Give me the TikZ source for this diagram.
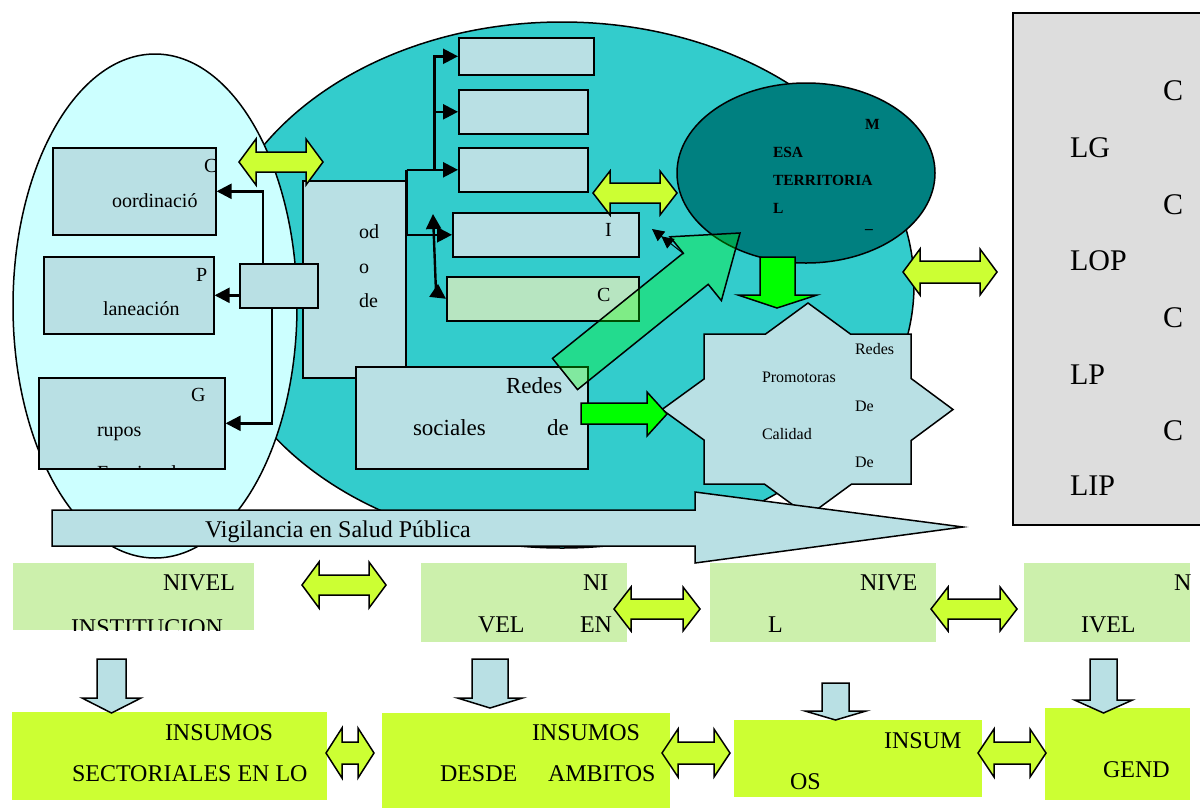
\documentclass[tikz,border=0pt]{standalone}
\usepackage{fontspec}
\setmainfont{Liberation Serif}
\usetikzlibrary{arrows.meta,shapes.geometric}
\definecolor{tealA}{RGB}{51,204,204}
\definecolor{paleCyan}{RGB}{204,255,255}
\definecolor{boxblue}{RGB}{185,224,228}
\definecolor{mintbox}{RGB}{183,229,193}
\definecolor{mesaTeal}{RGB}{0,128,128}
\definecolor{lime}{RGB}{204,255,51}
\definecolor{brightgreen}{RGB}{0,255,0}
\definecolor{greybox}{RGB}{221,221,221}
\definecolor{levelgreen}{RGB}{204,240,172}

% double-headed block arrow: centre x, centre y, half length, half height, shaft half height, head length
\newcommand{\twoway}[6]{%
  \draw[twowaystyle] (#1-#3,#2) -- (#1-#3+#6,#2-#4) -- (#1-#3+#6,#2-#5) -- (#1+#3-#6,#2-#5)
    -- (#1+#3-#6,#2-#4) -- (#1+#3,#2) -- (#1+#3-#6,#2+#4) -- (#1+#3-#6,#2+#5)
    -- (#1-#3+#6,#2+#5) -- (#1-#3+#6,#2+#4) -- cycle;}
% downward block arrow: centre x, shaft half width, top, head base, head half width, tip
\newcommand{\downblock}[6]{%
  \draw[downstyle] (#1-#2,#3) -- (#1+#2,#3) -- (#1+#2,#4) -- (#1+#5,#4) -- (#1,#6)
    -- (#1-#5,#4) -- (#1-#2,#4) -- cycle;}

\begin{document}
\begin{tikzpicture}[x=1pt,y=-1pt,
  box/.style={draw=black, line width=1.6pt, fill=boxblue, anchor=north west, inner sep=0pt},
  flatbox/.style={draw=none, anchor=north west, inner sep=0pt},
  oval/.style={draw=black, line width=1.5pt, ellipse, inner sep=0pt},
  conn/.style={line width=2.4pt, -{Triangle[length=15pt,width=15pt]}},
  twowaystyle/.style={draw=black, line width=1.5pt, fill=lime, line join=miter},
  downstyle/.style={draw=black, line width=1.5pt, fill=boxblue},
  lbl/.style={anchor=base west, inner sep=0pt, outer sep=0pt},
  f16/.style={lbl, font=\fontsize{16}{19}\selectfont},
  f20/.style={lbl, font=\fontsize{20}{24}\selectfont},
  f23/.style={lbl, font=\fontsize{23}{27}\selectfont},
  f24/.style={lbl, font=\fontsize{24}{28}\selectfont},
  f30/.style={lbl, font=\fontsize{30}{34}\selectfont},
  fbold/.style={lbl, font=\fontsize{15.5}{18}\selectfont\bfseries},
]
\useasboundingbox (0,0) rectangle (1200,807);
\fill[white] (0,0) rectangle (1200,807);

% the two large ovals
\node[oval, fill=tealA, minimum width=704pt, minimum height=526pt] (bigoval) at (562,285) {};
\node[oval, fill=paleCyan, minimum width=284pt, minimum height=504pt] (leftoval) at (155,306) {};

% boxes inside the left oval
\node[box, minimum width=163pt, minimum height=87pt] (coord) at (52,147) {};
\node[box, minimum width=170pt, minimum height=77pt] (plan) at (43,256) {};
\node[box, minimum width=186pt, minimum height=91pt] (grupos) at (38,377) {};
\begin{scope}
  \clip (coord.north west) rectangle (coord.south east);
  \node[f20] (coordC) at (204,172) {C};
\end{scope}
\node[f20] (coordT) at (112,207) {oordinació};
\node[f20] (planP) at (196,281) {P};
\node[f20] (planT) at (103,315) {laneación};
\node[f20] (gruG) at (191,401) {G};
\node[f20] (gruT) at (97,436) {rupos};
\begin{scope}
  \clip (grupos.north west) rectangle (grupos.south east);
  \node[f20] (gruF) at (97,479) {Funcionales};
\end{scope}

% central column and its branch boxes
\node[box, minimum width=103pt, minimum height=197pt] (od) at (302,180) {};
\node[f20] (odA) at (359,238) {od};
\node[f20] (odB) at (359,273) {o};
\node[f20] (odC) at (359,307) {de};

\node[box, minimum width=135pt, minimum height=37pt] (b1) at (458,37) {};
\node[box, minimum width=129pt, minimum height=44pt] (b2) at (458,89) {};
\node[box, minimum width=129pt, minimum height=44pt] (b3) at (458,147) {};
\node[box, minimum width=186pt, minimum height=44pt] (b4) at (452,212) {};
\node[box, fill=mintbox, minimum width=192pt, minimum height=44pt] (b5) at (446,276) {};
\node[f20] (b4I) at (605,236) {I};
\node[f20] (b5C) at (597,301) {C};

\coordinate (trunk) at ([xshift=28pt]od.east |- b3.west);
\draw[line width=2.4pt] (od.east |- b3.west) -- (trunk);
\draw[conn] (od.east |- b3.west) -- (b3.west);
\draw[conn] (trunk) |- (b1.west);
\draw[conn] (trunk |- b2.west) -- (b2.west);
\draw[line width=2.4pt] (od.east |- b3.west) -- (od.east |- b4.west);
\draw[conn] (od.east |- b4.west) -- (b4.west);
\coordinate (upTip) at (433,214);
\coordinate (downKnee) at (436,292);
\draw[line width=2.4pt, {Triangle[length=15pt,width=15pt]}-{Triangle[length=15pt,width=15pt]}]
  (upTip) -- (downKnee) -- (b5.west);

% connector hub and its branches
\node[box, minimum width=78pt, minimum height=44pt] (hub) at (239,263) {};
\draw[conn] ([xshift=24pt]hub.north west) |- (coord.east);
\draw[conn] (hub.west |- plan.east) -- (plan.east);
\draw[conn] ([xshift=33pt]hub.south west) |- (grupos.east);

% social networks box
\node[box, minimum width=232pt, minimum height=102pt] (rs) at (355,366) {};
\node[f23] (rsA) at (506,393) {Redes};
\node[f23] (rsB) at (413,435) {sociales};
\node[f23] (rsC) at (547,435) {de};

\twoway{281}{162}{42}{23}{10}{17}

% territorial table
\node[oval, fill=mesaTeal, minimum width=258pt, minimum height=180pt] (mesa) at (806,173) {};
\node[fbold] (mesaM) at (865,129) {M};
\node[fbold] (mesaA) at (773,157) {ESA};
\node[fbold] (mesaB) at (773,185) {TERRITORIA};
\node[fbold] (mesaC) at (773,213) {L};
\node[fbold] (mesaD) at (865,228) {\_};

\twoway{635}{193}{42}{22}{10}{17}

% star of promoting networks
\draw[line width=1.5pt, fill=boxblue, line join=miter] (808,303) -- (850.4,334) -- (911,334) -- (911,378.4)
  -- (953,409.5) -- (911,440.6) -- (911,484) -- (851.7,484) -- (808,516) -- (764.3,484)
  -- (704,484) -- (704,440) -- (662,409.5) -- (704,379) -- (704,334) -- (765.6,334) -- cycle;
\coordinate (star) at (808,409.5);
\node[f16] (stA) at (855,354) {Redes};
\node[f16] (stB) at (762,382) {Promotoras};
\node[f16] (stC) at (855,411) {De};
\node[f16] (stD) at (762,439) {Calidad};
\node[f16] (stE) at (855,467) {De};

% green arrows
\draw[line width=1.5pt, fill=brightgreen] (760,257) -- (795,257) -- (795,295) -- (817,295) -- (777,308)
  -- (738,295) -- (760,295) -- cycle;
\draw[line width=1.5pt, fill=brightgreen] (581,403) -- (647,403) -- (647,392) -- (667,414) -- (647,436)
  -- (647,424) -- (581,424) -- cycle;
\draw[line width=1.5pt, fill=brightgreen, fill opacity=0.3] (552.5,358.4) -- (683.2,253.1) -- (670,236.8)
  -- (740,233) -- (721.4,300.6) -- (708.2,284.3) -- (577.5,389.6) -- cycle;
\coordinate (tailA) at (684,254);
\coordinate (headA) at (652,229);
\draw[line width=1pt, -{Triangle[length=12pt,width=12pt] Triangle[length=12pt,width=12pt]}] (tailA) -- (headA);

% surveillance arrow
\draw[line width=1.5pt, fill=boxblue] (52,510) -- (695,510) -- (695,492) -- (963,527) -- (695,563)
  -- (695,546) -- (52,546) -- cycle;
\node[f24] (vig) at (205,537) {Vigilancia en Salud Pública};

% grey column on the right
\node[box, fill=greybox, minimum width=210pt, minimum height=512pt] (grey) at (1012,12) {};
\node[f30] (gC1) at (1163,100) {C};
\node[f30] (gL1) at (1070,157) {LG};
\node[f30] (gC2) at (1163,214) {C};
\node[f30] (gL2) at (1070,270) {LOP};
\node[f30] (gC3) at (1163,327) {C};
\node[f30] (gL3) at (1070,384) {LP};
\node[f30] (gC4) at (1163,440) {C};
\node[f30] (gL4) at (1070,495) {LIP};

\twoway{950}{272}{47}{23}{11}{17}

% level boxes
\node[flatbox, fill=levelgreen, minimum width=241pt, minimum height=67pt] (n1) at (13,563) {};
\node[flatbox, fill=levelgreen, minimum width=206pt, minimum height=79pt] (n2) at (421,563) {};
\node[flatbox, fill=levelgreen, minimum width=226pt, minimum height=79pt] (n3) at (710,563) {};
\node[flatbox, fill=levelgreen, minimum width=166pt, minimum height=79pt] (n4) at (1024,563) {};
\node[f24] (n1A) at (163,590) {NIVEL};
\begin{scope}
  \clip (n1.north west) rectangle (n1.south east);
  \node[f24] (n1B) at (71,635) {INSTITUCION};
\end{scope}
\node[f24] (n2A) at (583,590) {NI};
\node[f24] (n2B) at (478,632) {VEL};
\node[f24] (n2C) at (580,632) {EN};
\node[f24] (n3A) at (860,590) {NIVE};
\node[f24] (n3B) at (768,632) {L};
\node[f24] (n4A) at (1174,590) {N};
\node[f24] (n4B) at (1081,632) {IVEL};

\twoway{344}{585}{42}{23}{10}{17}
\twoway{657}{609}{43}{22}{10}{17}
\twoway{974}{609}{43}{22}{10}{17}

% input boxes
\node[flatbox, fill=lime, minimum width=315pt, minimum height=88pt] (i1) at (12,712) {};
\node[flatbox, fill=lime, minimum width=288pt, minimum height=100pt] (i2) at (382,713) {};
\node[flatbox, fill=lime, minimum width=248pt, minimum height=77pt] (i3) at (734,720) {};
\node[flatbox, fill=lime, minimum width=145pt, minimum height=92pt] (i4) at (1045,708) {};
\node[f24] (i1A) at (165,740) {INSUMOS};
\node[f24] (i1B) at (72,781) {SECTORIALES EN LO};
\node[f24] (i2A) at (532,740) {INSUMOS};
\node[f24] (i2B) at (440,781) {DESDE};
\node[f24] (i2C) at (548,781) {AMBITOS};
\node[f24] (i3A) at (884,748) {INSUM};
\node[f24] (i3B) at (790,789) {OS};
\node[f24] (i4A) at (1103,777) {GEND};

\downblock{111.5}{14.5}{659}{698}{29.5}{713}
\downblock{490}{18}{659}{698}{32.5}{708}
\downblock{835.5}{13.5}{683}{711}{30.5}{720}
\downblock{1103.5}{13.5}{659}{700}{29}{713}

\twoway{350}{753}{24}{25}{11}{16}
\twoway{696}{753}{34}{24}{11}{16}
\twoway{1012}{753}{34}{24}{11}{16}
\end{tikzpicture}
\end{document}
